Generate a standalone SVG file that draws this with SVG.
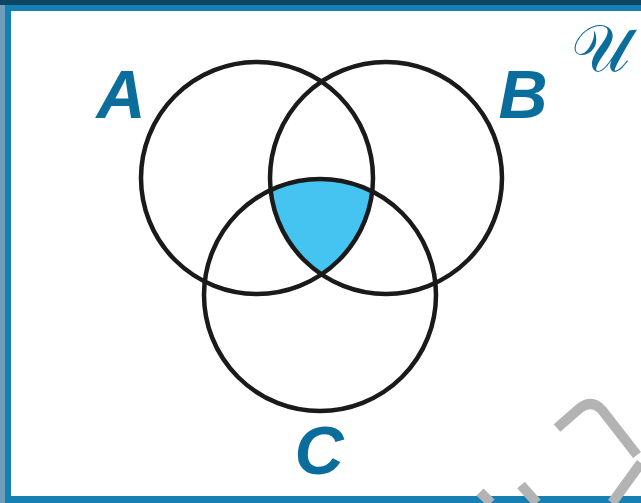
<svg xmlns="http://www.w3.org/2000/svg" width="641" height="503" viewBox="0 0 641 503">
<style>
.circ{fill:none;stroke:#1a1a1a;stroke-width:4.5}
.lbl{font-family:"Liberation Sans",Arial,sans-serif;font-weight:bold;font-style:italic;font-size:68px;fill:#0b6d9c;text-anchor:middle}
.wm{fill:none;stroke:#b3b3b3;stroke-width:10;stroke-linecap:butt;stroke-linejoin:round}
</style>
<rect x="0" y="0" width="641" height="503" fill="#6f9fb8"/>
<rect x="0" y="0" width="641" height="5" fill="#0e4563"/>
<rect x="5" y="5" width="640" height="498" fill="#167fb3"/>
<rect x="11" y="11" width="640" height="485" fill="#ffffff"/>
<g id="watermark">
<path class="wm" d="M557 428 L580 408 Q592 399 602 410 L637 455"/>
<path class="wm" d="M641 463 L612 503"/>
<path class="wm" d="M480 492 L491 503"/>
<path class="wm" d="M521 485 L537 503"/>
</g>
<g id="region-ABC">
<path d="M270.6 190 A116 116 0 0 1 372.2 191.4 A116 116 0 0 1 321.5 274.4 A116 116 0 0 1 270.6 190 Z" fill="#45c4f2"/>
</g>
<g id="connectors"></g>
<g id="circle-A"><circle class="circ" cx="257" cy="178" r="116"/><text class="lbl" x="121" y="118">A</text></g>
<g id="circle-B"><circle class="circ" cx="386" cy="178" r="116"/><text class="lbl" x="523" y="118">B</text></g>
<g id="circle-C"><circle class="circ" cx="320" cy="295" r="116"/><text class="lbl" x="319" y="474">C</text></g>
<g id="universe"><text x="600" y="71" font-family="'DejaVu Serif','DejaVu Sans',serif" font-size="66" fill="#0b6d9c" text-anchor="middle">𝒰</text></g>
</svg>
